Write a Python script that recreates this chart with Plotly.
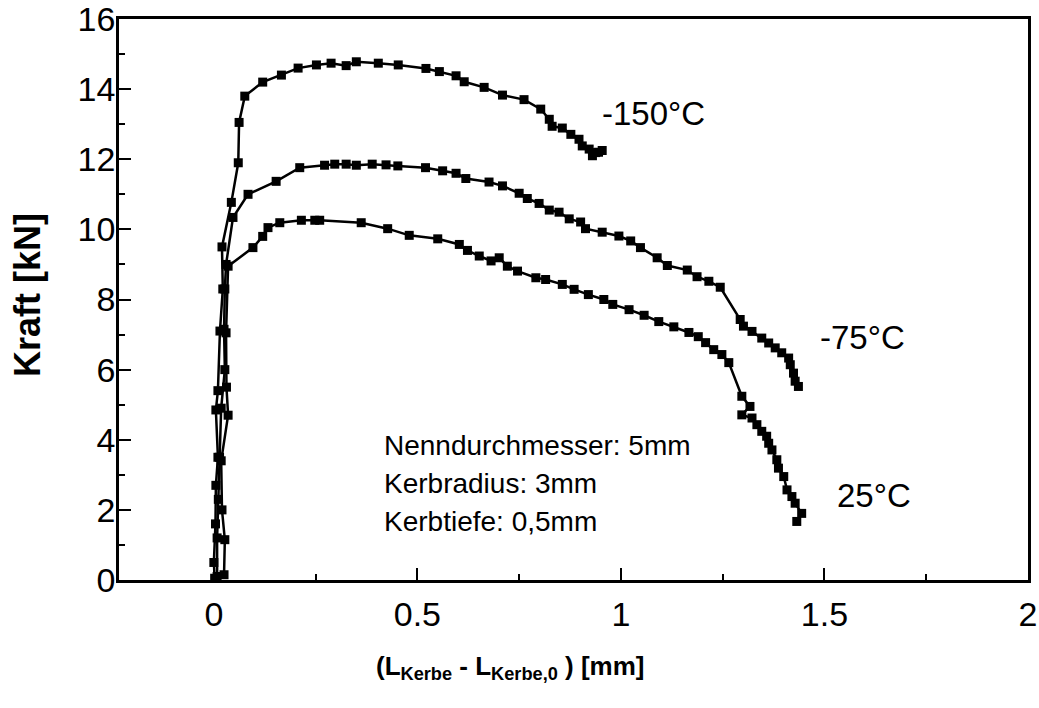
import plotly.graph_objects as go

# -150 °C
x_m150 = [0.002, 0.000, 0.004, 0.005, 0.010, 0.005, 0.010, 0.015, 0.022, 0.020, 0.043, 0.060, 0.062, 0.076,
          0.120, 0.166, 0.207, 0.252, 0.288, 0.325, 0.350, 0.404, 0.453, 0.521, 0.554, 0.595, 0.615, 0.664,
          0.709, 0.762, 0.803, 0.824, 0.831, 0.856, 0.877, 0.897, 0.905, 0.922, 0.938, 0.930, 0.954, 0.945]
y_m150 = [0.05, 0.5, 1.6, 2.7, 3.5, 4.85, 5.4, 7.1, 8.3, 9.5, 10.77, 11.9, 13.05, 13.8,
          14.2, 14.4, 14.6, 14.69, 14.74, 14.67, 14.78, 14.74, 14.69, 14.59, 14.5, 14.38, 14.21, 14.05,
          13.83, 13.7, 13.43, 13.14, 12.94, 12.89, 12.71, 12.57, 12.38, 12.29, 12.19, 12.10, 12.25, 12.2]

# -75 °C
x_m75 = [0.008, 0.008, 0.011, 0.014, 0.018, 0.027, 0.025, 0.027, 0.030, 0.047, 0.084, 0.153, 0.211, 0.272,
         0.297, 0.325, 0.350, 0.389, 0.423, 0.452, 0.520, 0.562, 0.595, 0.619, 0.676, 0.709, 0.750, 0.770,
         0.799, 0.824, 0.848, 0.873, 0.901, 0.913, 0.954, 0.995, 1.024, 1.048, 1.089, 1.114, 1.163, 1.187,
         1.216, 1.244, 1.293, 1.301, 1.322, 1.346, 1.363, 1.379, 1.395, 1.412, 1.416, 1.424, 1.428, 1.436]
y_m75 = [0.1, 1.2, 2.3, 3.5, 4.9, 6.0, 7.15, 8.3, 9.0, 10.34, 11.0, 11.37, 11.76, 11.83,
         11.86, 11.86, 11.83, 11.86, 11.84, 11.81, 11.76, 11.67, 11.6, 11.45, 11.35, 11.24, 11.03, 10.88,
         10.74, 10.55, 10.49, 10.30, 10.21, 10.02, 9.92, 9.81, 9.67, 9.48, 9.19, 8.97, 8.84, 8.65,
         8.52, 8.35, 7.43, 7.24, 7.09, 6.90, 6.76, 6.62, 6.48, 6.33, 6.14, 5.90, 5.67, 5.52]

# 25 °C
x_25 = [0.025, 0.027, 0.020, 0.018, 0.035, 0.031, 0.030, 0.035, 0.096, 0.120, 0.133, 0.162, 0.215, 0.248,
        0.260, 0.362, 0.427, 0.480, 0.550, 0.603, 0.623, 0.652, 0.681, 0.701, 0.721, 0.746, 0.791, 0.815,
        0.856, 0.885, 0.920, 0.958, 0.980, 1.020, 1.057, 1.093, 1.130, 1.167, 1.190, 1.208, 1.228, 1.248,
        1.265, 1.297, 1.317, 1.297, 1.322, 1.334, 1.346, 1.358, 1.363, 1.371, 1.383, 1.387, 1.400, 1.408,
        1.420, 1.428, 1.444, 1.432]
y_25 = [0.15, 1.15, 2.0, 3.4, 4.7, 5.5, 7.05, 8.95, 9.48, 9.80, 10.05, 10.19, 10.26, 10.26,
        10.26, 10.19, 10.02, 9.83, 9.73, 9.57, 9.40, 9.24, 9.10, 9.19, 8.95, 8.81, 8.62, 8.57,
        8.43, 8.29, 8.14, 8.00, 7.86, 7.71, 7.55, 7.37, 7.22, 7.06, 6.94, 6.77, 6.57, 6.43,
        6.20, 5.24, 4.95, 4.71, 4.62, 4.43, 4.24, 4.10, 3.90, 3.71, 3.43, 3.19, 2.95, 2.57,
        2.38, 2.19, 1.90, 1.67]

series = [("-150°C", x_m150, y_m150), ("-75°C", x_m75, y_m75), ("25°C", x_25, y_25)]

FONT = "Arial, Liberation Sans, sans-serif"
L, R, T, B = 119, 1028, 19, 580

fig = go.Figure()
for name, xs, ys in series:
    fig.add_trace(go.Scatter(
        x=xs, y=ys, mode="lines+markers", name=name,
        line=dict(color="black", width=2.5),
        marker=dict(symbol="square", size=9, color="black"),
        showlegend=False,
    ))

fig.update_layout(
    width=1039, height=708,
    margin=dict(l=L, r=1039 - R, t=T, b=708 - B, autoexpand=False),
    paper_bgcolor="white", plot_bgcolor="white",
    font=dict(family=FONT, color="black"),
)

fig.update_xaxes(
    range=[-0.233, 2], tick0=0, dtick=0.5, tickmode="linear",
    ticks="inside", ticklen=12, tickwidth=2, tickcolor="black",
    minor=dict(ticks="inside", dtick=0.25, tick0=0, ticklen=6, tickwidth=2, tickcolor="black"),
    showline=True, linewidth=2.5, linecolor="black", mirror=True,
    showgrid=False, zeroline=False, automargin=False,
    tickfont=dict(size=34, family=FONT, color="black"),
    ticklabelstandoff=2, ticklabeloverflow="allow",
)
fig.update_yaxes(
    range=[0, 16], tick0=0, dtick=2, tickmode="linear",
    ticks="inside", ticklen=12, tickwidth=2, tickcolor="black",
    minor=dict(ticks="inside", dtick=1, tick0=0, ticklen=6, tickwidth=2, tickcolor="black"),
    showline=True, linewidth=2.5, linecolor="black", mirror=True,
    showgrid=False, zeroline=False, automargin=False,
    tickfont=dict(size=34, family=FONT, color="black"),
    ticklabelstandoff=-6, ticklabeloverflow="allow",
)

annots = [
    dict(text="<b>Kraft [kN]</b>", x=27, y=295, textangle=-90, size=36, xanchor="center"),
    dict(text="<b>(L<sub>Kerbe</sub> - L<sub>Kerbe,0</sub> ) [mm]</b>", x=510, y=668, size=26, xanchor="center"),
    dict(text="-150°C", x=600, y=114, size=33, xanchor="left"),
    dict(text="-75°C", x=818, y=337, size=33, xanchor="left"),
    dict(text="25°C", x=835, y=495, size=33, xanchor="left"),
    dict(text="Nenndurchmesser: 5mm", x=382, y=445, size=28, xanchor="left"),
    dict(text="Kerbradius: 3mm", x=382, y=483, size=28, xanchor="left"),
    dict(text="Kerbtiefe: 0,5mm", x=382, y=521, size=28, xanchor="left"),
]
for a in annots:
    fig.add_annotation(
        text=a["text"], xref="paper", yref="paper",
        x=(a["x"] - L) / (R - L), y=(B - a["y"]) / (B - T),
        xanchor=a["xanchor"], yanchor="middle", showarrow=False,
        textangle=a.get("textangle", 0),
        font=dict(size=a["size"], family=FONT, color="black"),
    )

fig.write_html("out.html")
